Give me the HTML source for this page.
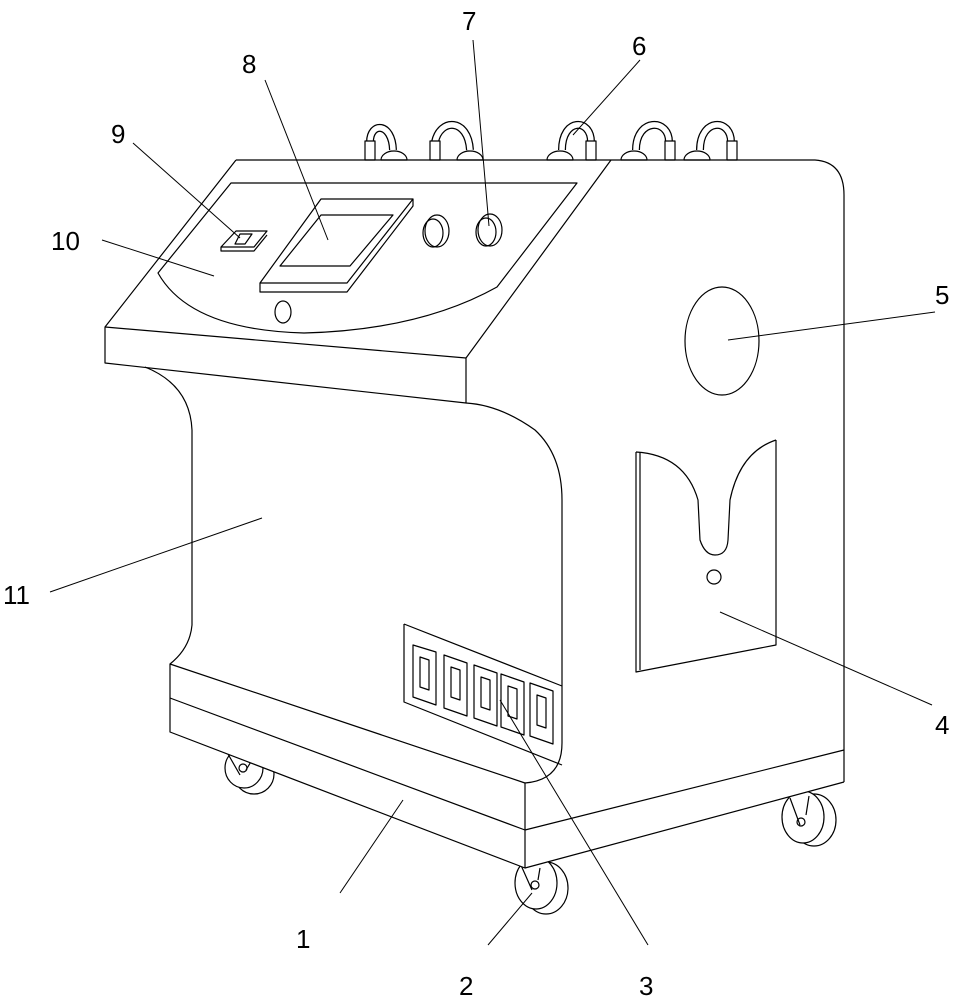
<!DOCTYPE html>
<html><head><meta charset="utf-8"><style>
html,body{margin:0;padding:0;background:#fff;}
svg{display:block}
text{font-family:"Liberation Sans",sans-serif;font-size:26px;fill:#000}
</style></head><body>
<svg width="963" height="1000" viewBox="0 0 963 1000" xmlns="http://www.w3.org/2000/svg">
<g fill="none" stroke="#000" stroke-width="1.2" stroke-linejoin="round">
<!-- tubes -->
<g>
<path d="M370,142 C370,122 392,122 393,150" stroke="#000" stroke-width="8"/>
<path d="M370,142 C370,122 392,122 393,150" stroke="#fff" stroke-width="5.5"/>
<path d="M435,142 C440,118 468,118 470,150" stroke="#000" stroke-width="8"/>
<path d="M435,142 C440,118 468,118 470,150" stroke="#fff" stroke-width="5.5"/>
<path d="M562,150 C562,118 591,118 591,142" stroke="#000" stroke-width="8"/>
<path d="M562,150 C562,118 591,118 591,142" stroke="#fff" stroke-width="5.5"/>
<path d="M636,150 C636,118 669,118 669,142" stroke="#000" stroke-width="8"/>
<path d="M636,150 C636,118 669,118 669,142" stroke="#fff" stroke-width="5.5"/>
<path d="M700,150 C700,118 731,118 731,142" stroke="#000" stroke-width="8"/>
<path d="M700,150 C700,118 731,118 731,142" stroke="#fff" stroke-width="5.5"/>
<g fill="#fff">
<rect x="365" y="141" width="10" height="19"/>
<rect x="430" y="141" width="10" height="19"/>
<rect x="586" y="141" width="10" height="19"/>
<rect x="665" y="141" width="10" height="19"/>
<rect x="727" y="141" width="10" height="19"/>
<path d="M381,160 A13,9 0 0 1 407,160Z"/>
<path d="M457,160 A13,9 0 0 1 483,160Z"/>
<path d="M547,160 A13,9 0 0 1 573,160Z"/>
<path d="M621,160 A13,9 0 0 1 647,160Z"/>
<path d="M684,160 A13,9 0 0 1 710,160Z"/>
</g>
</g>
<!-- wheels -->
<g fill="#fff">
<ellipse cx="254" cy="774" rx="20" ry="20"/>
<ellipse cx="244" cy="768" rx="19" ry="20"/>
<ellipse cx="546" cy="888" rx="22" ry="26"/>
<ellipse cx="536" cy="883" rx="21" ry="26"/>
<ellipse cx="814" cy="820" rx="22" ry="26"/>
<ellipse cx="803" cy="817" rx="21" ry="26"/>
</g>
<path d="M228,754 L240,775 M252,760 L246,770"/><circle cx="243" cy="768" r="4"/>
<path d="M520,863 L532,890 M540,868 L538,880"/><circle cx="535" cy="885" r="4"/>
<path d="M790,798 L800,825 M809,796 L806,815"/><circle cx="801" cy="822" r="4"/>
<!-- base fill -->
<path d="M170,664 L525,783 L844,750 L844,782 L525,868 L170,732 Z" fill="#fff" stroke="none"/>
<!-- body outline -->
<path d="M236,160 L815,160 Q844,162 844,195 L844,782"/>
<!-- console -->
<path d="M236,160 L105,327 L105,363 L466,403 L466,358 L611,160"/>
<path d="M105,327 L466,358"/>
<path d="M231,183 L577,183 L497,287 Q420,330 304,333 Q190,330 158,273 Z"/>
<!-- screen -->
<path d="M321,199 L413,199 L347,283 L260,283 Z"/>
<path d="M260,283 L260,292 L347,292 L413,206 L413,199"/>
<path d="M321,215 L393,215 L350,266 L280,266 Z"/>
<!-- switch -->
<path d="M236,231 L267,231 L254,247 L221,247 Z"/>
<path d="M221,247 L221,251 L254,251 L267,235"/>
<path d="M240,234 L252,234 L245,244 L235,244 Z"/>
<!-- knobs -->
<ellipse cx="437" cy="231" rx="12" ry="16"/>
<ellipse cx="433" cy="233" rx="10" ry="14"/>
<ellipse cx="490" cy="230" rx="12" ry="16"/>
<ellipse cx="486" cy="232" rx="10" ry="14"/>
<ellipse cx="283" cy="312" rx="8" ry="11"/>
<!-- circle 5 -->
<ellipse cx="722" cy="341" rx="37" ry="54"/>
<!-- front body -->
<path d="M145,367 Q190,385 192,430 L192,625 Q190,648 170,664"/>
<path d="M466,403 Q500,405 535,430 Q562,455 562,500 L562,743 Q562,780 525,783"/>
<!-- base -->
<path d="M170,664 L525,783 L525,868 L170,732 Z"/>
<path d="M525,868 L844,782"/>
<path d="M170,698 L525,830"/>
<path d="M525,830 L844,750"/>
<!-- vent panel -->
<path d="M404,624 L562,686 M404,624 L404,702 L562,765"/>
<g>
<path d="M413,645 L436,652 L436,705 L413,697 Z"/><path d="M420,657 L429,660 L429,690 L420,687 Z"/>
<path d="M444,655 L467,663 L467,716 L444,708 Z"/><path d="M451,667 L460,670 L460,700 L451,697 Z"/>
<path d="M474,665 L497,673 L497,726 L474,718 Z"/><path d="M481,677 L490,680 L490,710 L481,707 Z"/>
<path d="M501,674 L524,682 L524,735 L501,727 Z"/><path d="M508,686 L517,689 L517,719 L508,716 Z"/>
<path d="M530,683 L553,691 L553,744 L530,736 Z"/><path d="M537,695 L546,698 L546,728 L537,725 Z"/>
</g>
<!-- card 4 -->
<path d="M636,452 L636,672 L776,645 L776,440"/>
<path d="M636,452 Q685,455 698,500 L700,540 Q705,555 715,555 Q727,555 728,540 L730,500 Q740,452 776,440"/>
<path d="M640,452 L640,670"/>
<circle cx="714" cy="577" r="7"/>
<!-- leaders -->
<g stroke-width="1">
<path d="M340,893 L403,800"/>
<path d="M488,945 L532,893"/>
<path d="M648,945 L500,700"/>
<path d="M932,705 L720,612"/>
<path d="M935,312 L728,340"/>
<path d="M640,60 L573,135"/>
<path d="M473,40 L489,226"/>
<path d="M265,80 L328,240"/>
<path d="M133,143 L240,238"/>
<path d="M102,240 L214,276"/>
<path d="M50,592 L262,518"/>
</g>
</g>
<text x="296" y="948">1</text>
<text x="459" y="995">2</text>
<text x="639" y="995">3</text>
<text x="935" y="734">4</text>
<text x="935" y="304">5</text>
<text x="632" y="55">6</text>
<text x="462" y="30">7</text>
<text x="242" y="73">8</text>
<text x="111" y="143">9</text>
<text x="51" y="250">10</text>
<text x="3" y="604">11</text>
</svg>
</body></html>
